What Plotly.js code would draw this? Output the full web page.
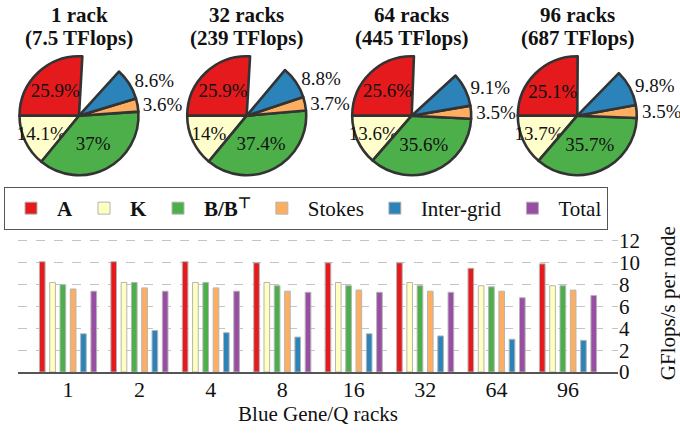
<!DOCTYPE html>
<html>
<head>
<meta charset="utf-8">
<script src="https://cdn.plot.ly/plotly-3.0.1.min.js"></script>
<style>html,body{margin:0;padding:0;background:#fff;}#chart{width:680px;height:434px;}</style>
</head>
<body>
<div id="chart"></div>
<script>
// ---------- data ----------
const racks = ['1', '2', '4', '8', '16', '32', '64', '96'];
const perfA      = [10.1, 10.1, 10.1, 10.0, 10.0, 10.0, 9.5, 9.9];
const perfK      = [8.2, 8.2, 8.2, 8.2, 8.2, 8.2, 7.9, 7.9];
const perfB      = [8.0, 8.2, 8.2, 7.9, 7.9, 7.9, 7.8, 7.9];
const perfStokes = [7.6, 7.7, 7.7, 7.4, 7.5, 7.4, 7.4, 7.5];
const perfInter  = [3.5, 3.8, 3.6, 3.2, 3.5, 3.3, 3.0, 2.9];
const perfTotal  = [7.4, 7.4, 7.4, 7.3, 7.3, 7.3, 6.8, 7.0];

const pieTitleLine1 = ['1 rack', '32 racks', '64 racks', '96 racks'];
const pieTitleLine2 = ['(7.5 TFlops)', '(239 TFlops)', '(445 TFlops)', '(687 TFlops)'];
// time share (%) per pie
const shareA      = [25.9, 25.9, 25.6, 25.1];
const shareK      = [14.1, 14, 13.6, 13.7];
const shareB      = [37, 37.4, 35.6, 35.7];
const shareStokes = [3.6, 3.7, 3.5, 3.5];
const shareInter  = [8.6, 8.8, 9.1, 9.8];
const shareOther  = [10.8, 10.2, 12.6, 12.2]; // not shown (empty wedge)

const seriesNames = ['<b>A</b>', '<b>K</b>', '<b>B/B<sup>⊤</sup></b>', 'Stokes', 'Inter-grid', 'Total'];
const colors = ['#e41a1c', '#ffffbf', '#4daf4a', '#fdae61', '#2b83ba', '#984ea3'];

// ---------- layout helpers ----------
const W = 680, H = 434;
const SERIF = '"Liberation Serif", "Times New Roman", serif';
const px = x => x / W;
const py = y => (H - y) / H;

const traces = [];
const barSeries = [perfA, perfK, perfB, perfStokes, perfInter, perfTotal];
barSeries.forEach((vals, i) => {
  traces.push({
    type: 'bar', x: racks, y: vals, name: seriesNames[i],
    marker: {color: colors[i], line: {color: '#b5b5b5', width: 1}},
    hoverinfo: 'skip', xaxis: 'x', yaxis: 'y'
  });
});

const pieCenters = [79, 246.7, 411.7, 577.3];
const pieCY = 115.7, pieR = 59.5;
const annotations = [];
for (let p = 0; p < 4; p++) {
  const vals = [shareA[p], shareK[p], shareB[p], shareStokes[p], shareInter[p], shareOther[p]];
  const txt = vals.map((v, k) => k < 5 ? v + '%' : '');
  traces.push({
    type: 'pie', values: vals, text: txt, textinfo: 'text', sort: false,
    direction: 'counterclockwise', rotation: -90,
    labels: ['A', 'K', 'B', 'Stokes', 'Inter-grid', 'Other'],
    textposition: ['inside', 'inside', 'inside', 'outside', 'outside', 'none'],
    insidetextorientation: 'horizontal',
    marker: {colors: [colors[0], '#ffffcc', colors[2], colors[3], colors[4], 'rgba(0,0,0,0)'],
             line: {color: '#333333', width: [2.6, 2.6, 2.6, 2.6, 2.6, 0]}},
    textfont: {family: SERIF, size: 19, color: '#111'},
    insidetextfont: {family: SERIF, size: 19, color: '#111'},
    outsidetextfont: {family: SERIF, size: 19, color: '#111'},
    showlegend: false, hoverinfo: 'skip',
    domain: {x: [px(pieCenters[p] - pieR), px(pieCenters[p] + pieR)],
             y: [py(pieCY + pieR), py(pieCY - pieR)]}
  });
  annotations.push({text: '<b>' + pieTitleLine1[p] + '</b>', x: px(pieCenters[p]), y: py(15),
    xref: 'paper', yref: 'paper', xanchor: 'center', yanchor: 'middle', showarrow: false,
    font: {family: SERIF, size: 21, color: '#111'}});
  annotations.push({text: '<b>' + pieTitleLine2[p] + '</b>', x: px(pieCenters[p]), y: py(38),
    xref: 'paper', yref: 'paper', xanchor: 'center', yanchor: 'middle', showarrow: false,
    font: {family: SERIF, size: 21, color: '#111'}});
}

const layout = {
  width: W, height: H,
  margin: {l: 0, r: 0, t: 0, b: 0},
  paper_bgcolor: '#fff', plot_bgcolor: '#fff',
  font: {family: SERIF, size: 20, color: '#111'},
  barmode: 'group', bargap: 0.135, bargroupgap: 0.45,
  showlegend: true,
  uniformtext: {mode: 'show', minsize: 19},
  legend: {orientation: 'h', x: px(4), y: py(187), xanchor: 'left', yanchor: 'top',
           bordercolor: '#555', borderwidth: 1, font: {family: SERIF, size: 21, color: '#111'},
           bgcolor: '#fff', itemwidth: 42},
  xaxis: {domain: [px(18), px(618)], type: 'category', range: [-0.7, 7.7],
          showline: true, linecolor: '#555', linewidth: 1.5, ticks: '', showgrid: false,
          ticklabelstandoff: -3,
          tickfont: {family: SERIF, size: 22, color: '#111'}, automargin: false,
          title: {text: 'Blue Gene/Q racks', font: {family: SERIF, size: 21, color: '#111'}, standoff: 2}},
  yaxis: {domain: [py(372), py(234.4)], range: [0, 12.6], side: 'right', dtick: 2, tick0: 0,
          showgrid: true, gridcolor: '#c4c4c4', griddash: 'dash', gridwidth: 1,
          zeroline: false, showline: false, ticks: '', automargin: false,
          tickfont: {family: SERIF, size: 21, color: '#111'},
          title: {text: 'GFlops/s per node', font: {family: SERIF, size: 21, color: '#111'}, standoff: 25}},
  annotations: annotations
};

Plotly.newPlot('chart', traces, layout, {displayModeBar: false, staticPlot: true});
</script>
</body>
</html>
